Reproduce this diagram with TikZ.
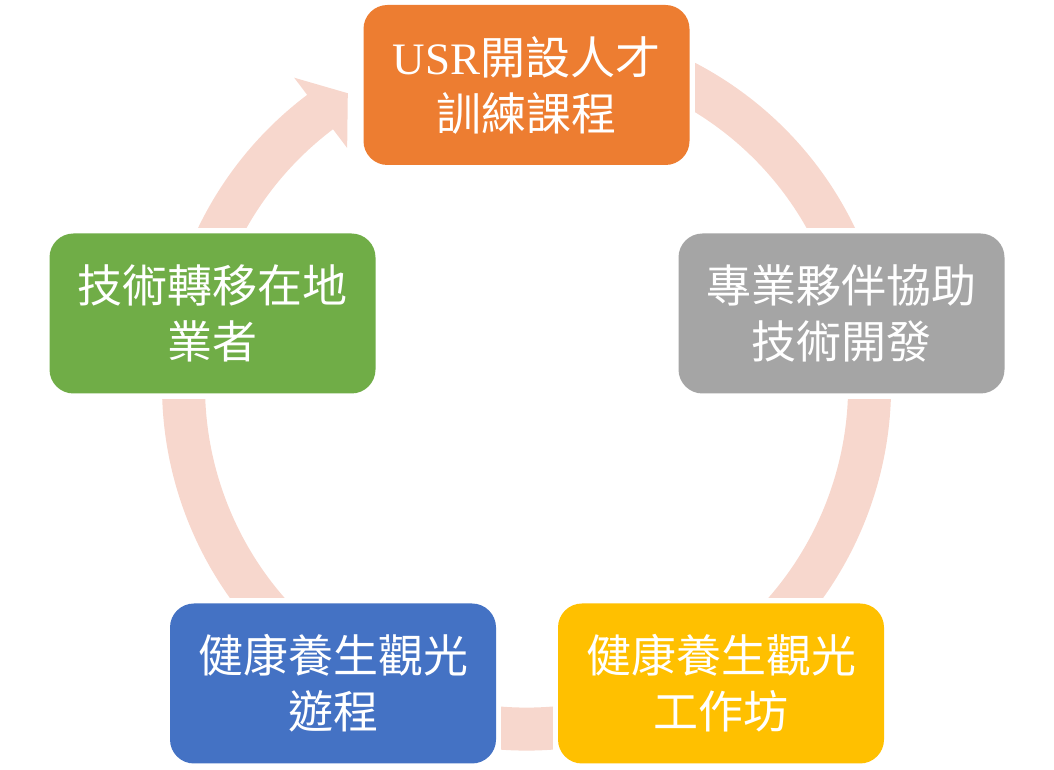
\documentclass[tikz,border=0pt]{standalone}
\usepackage{fontspec}
\setmainfont{Liberation Serif}
\newfontfamily\cjk{Noto Sans CJK TC}
\usetikzlibrary{backgrounds,calc}
\definecolor{steporange}{HTML}{ED7D31}
\definecolor{stepgray}{HTML}{A5A5A5}
\definecolor{stepgold}{HTML}{FFC000}
\definecolor{stepblue}{HTML}{4472C4}
\definecolor{stepgreen}{HTML}{70AD47}
\definecolor{ringpink}{HTML}{F7D7CD}
\tikzset{
  stepnode/.style={rounded corners=24pt,minimum width=326pt,minimum height=160pt,inner sep=0pt,align=center,text=white,font=\cjk\fontsize{45}{56}\selectfont},
  ringline/.style={line width=43pt,draw=ringpink},
  cutbox/.style={fill=white}
}

\begin{document}
\begin{tikzpicture}[x=1pt,y=1pt]
  \useasboundingbox (0,0) rectangle (1054,770);
  \coordinate (ctr) at (526.5,384);

  % Cycle steps
  \node[stepnode,fill=steporange] (course) at (526.5,685) {{\rmfamily USR}開設人才\\訓練課程};
  \node[stepnode,fill=stepgray] (partner) at (841.5,456.5) {專業夥伴協助\\技術開發};
  \node[stepnode,fill=stepgold] (workshop) at (721,86.5) {健康養生觀光\\工作坊};
  \node[stepnode,fill=stepblue] (tour) at (333,86.5) {健康養生觀光\\遊程};
  \node[stepnode,fill=stepgreen] (transfer) at (212.5,456.5) {技術轉移在地\\業者};

  % Ring behind the steps
  \begin{scope}[on background layer]
    \begin{scope}[shift={(ctr)}]
      \draw[ringline] (110:343) arc[start angle=110,end angle=-200,radius=343];
      \draw[ringline] (160:343) arc[start angle=160,end angle=126.5,radius=343];
      \fill[ringpink] (127:386) -- (121.4:343) -- (127:298) -- cycle;
    \end{scope}
    \foreach \s in {course,partner,workshop,tour,transfer}
      \fill[cutbox] ($(\s.south west)+(-5,-5)$) rectangle ($(\s.north east)+(5,5)$);
  \end{scope}
\end{tikzpicture}
\end{document}
